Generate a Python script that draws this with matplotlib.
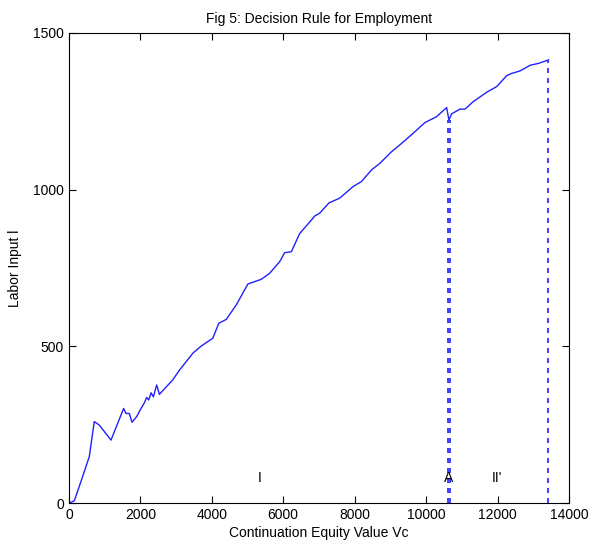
import numpy as np
import matplotlib.pyplot as plt

# decision rule: labor input as a function of continuation equity value
vc = [0, 150, 382, 570, 710, 850, 1178, 1532, 1599, 1692, 1767, 1832, 1897,
      2019, 2113, 2178, 2234, 2300, 2365, 2457, 2533, 2906, 3094, 3468, 3702,
      4028, 4197, 4404, 4684, 5010, 5385, 5618, 5899, 6040, 6227, 6460, 6788,
      6881, 7021, 7282, 7582, 7956, 8190, 8471, 8704, 9032, 9265, 9638, 9966,
      10294, 10575, 10640, 10715, 10948, 11088, 11321, 11697, 11977, 12258,
      12398, 12631, 12912, 13145, 13426]
labor = [0, 7, 84, 148, 260, 249, 201, 302, 286, 286, 258, 267, 276,
         302, 320, 337, 329, 352, 339, 377, 347, 393, 424, 478, 501,
         526, 574, 586, 632, 699, 714, 733, 770, 799, 802, 860, 903,
         916, 925, 958, 973, 1010, 1026, 1063, 1084, 1121, 1143, 1180, 1214,
         1233, 1262, 1222, 1242, 1257, 1257, 1281, 1311, 1329, 1364,
         1371, 1379, 1397, 1403, 1414]

# thresholds marked with dashed lines
cut_x = [10620, 10660, 13426]
cut_y = [1222, 1222, 1414]

# region labels
region_txt = ['I', 'A', "II'"]
region_x = [5338, 10640, 11990]
region_y = [80, 80, 80]

plt.rcParams['font.family'] = ['Liberation Sans', 'DejaVu Sans']
plt.rcParams['font.size'] = 10

fig = plt.figure(figsize=(5.89, 5.59), dpi=100)
ax = fig.add_axes([0.117, 0.1, 0.849, 0.841])

ax.plot(vc, labor, color='#2020ff', lw=1.0)
ax.vlines(cut_x, 0, cut_y, colors='#2020ff', linestyles=(0, (3, 3)), lw=1.2)
for t, x, y in zip(region_txt, region_x, region_y):
    ax.text(x, y, t, ha='center', va='center', fontsize=10)

ax.set_xlim(0, 14000)
ax.set_ylim(0, 1500)
ax.set_xticks(np.arange(0, 14001, 2000))
ax.set_yticks([0, 500, 1000, 1500])
ax.tick_params(direction='in', length=5, top=True, right=True, width=0.8)
for s in ax.spines.values():
    s.set_linewidth(0.8)

ax.set_title('Fig 5: Decision Rule for Employment', fontsize=10, pad=7)
ax.set_xlabel('Continuation Equity Value Vc', labelpad=3)
ax.set_ylabel('Labor Input l', labelpad=8)

fig.savefig('out.png', dpi=100)
